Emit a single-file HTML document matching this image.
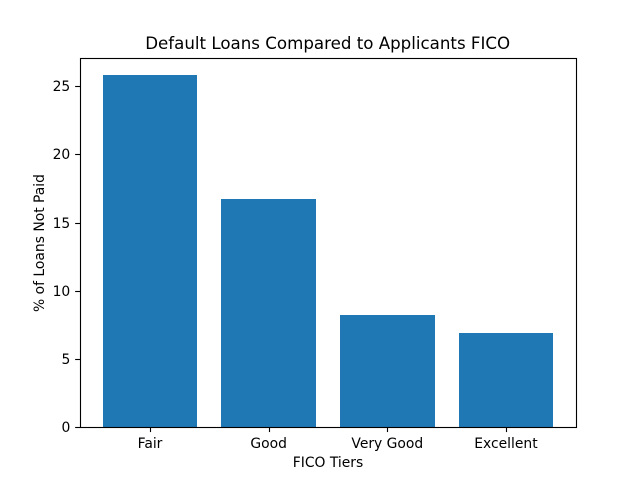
<!DOCTYPE html>
<html>
<head>
<meta charset="utf-8">
<title>Default Loans Compared to Applicants FICO</title>
<style>
html,body{margin:0;padding:0;background:#fff;}
svg{display:block;}
text{font-family:"DejaVu Sans",sans-serif;fill:#000;}
</style>
</head>
<body>
<svg id="chart" width="640" height="480" viewBox="0 0 640 480" xmlns="http://www.w3.org/2000/svg"></svg>
<script>
const categories = ["Fair", "Good", "Very Good", "Excellent"];
const values = [25.8, 16.73, 8.23, 6.91];
const yTicks = [0, 5, 10, 15, 20, 25];
const chartTitle = "Default Loans Compared to Applicants FICO";
const xAxisTitle = "FICO Tiers";
const yAxisTitle = "% of Loans Not Paid";

const plotLeft = 80, plotRight = 576, plotTop = 57.6, plotBottom = 427.2;
const barWidth = 0.8;
const svg = document.getElementById('chart');
const NS = 'http://www.w3.org/2000/svg';

const xMinData = -barWidth / 2;
const xMaxData = categories.length - 1 + barWidth / 2;
const xPad = (xMaxData - xMinData) * 0.05;
const yMax = Math.max.apply(null, values) * 1.05;

function xScale(v) {
  return plotLeft + (v - (xMinData - xPad)) / ((xMaxData + xPad) - (xMinData - xPad)) * (plotRight - plotLeft);
}
function yScale(v) {
  return plotBottom - (v / yMax) * (plotBottom - plotTop);
}
function make(tag, attrs, text) {
  const el = document.createElementNS(NS, tag);
  for (const k in attrs) el.setAttribute(k, attrs[k]);
  if (text !== undefined) el.textContent = text;
  svg.appendChild(el);
  return el;
}

const bg = make('rect', {x: 0, y: 0, width: 640, height: 480, fill: '#fff'});



const snapBottom = Math.round(plotBottom);

categories.forEach(function (cat, i) {
  const top = Math.round(yScale(values[i]));
  const left = Math.round(xScale(i - barWidth / 2));
  const right = Math.round(xScale(i + barWidth / 2));
  const bar = make('rect', {
    x: left,
    y: top,
    width: right - left,
    height: snapBottom - top,
    fill: '#1f77b4',
    'shape-rendering': 'crispEdges'
  });
  
  
});

categories.forEach(function (cat, i) {
  const x = xScale(i);
  const tx = Math.round(x) + 0.5;
  const tick = make('line', {x1: tx, x2: tx, y1: snapBottom + 0.5, y2: plotBottom + 4.86, stroke: '#000', 'stroke-width': 1.11});
  
  
  const label = make('text', {x: x, y: 448, 'text-anchor': 'middle', 'font-size': '13.89px'}, cat);
  
  
});

yTicks.forEach(function (t) {
  const y = Math.round(yScale(t));
  const ty = y + 0.5;
  const tick = make('line', {x1: plotLeft - 4.86, x2: plotLeft + 0.5, y1: ty, y2: ty, stroke: '#000', 'stroke-width': 1.11});
  
  
  const label = make('text', {x: plotLeft - 9.72, y: y + 5.2, 'text-anchor': 'end', 'font-size': '13.89px'}, String(t));
  
  
});

const frameTop = Math.round(plotTop) + 0.5;
const frame = make('rect', {
  x: plotLeft + 0.5, y: frameTop,
  width: plotRight - plotLeft, height: snapBottom + 0.5 - frameTop,
  fill: 'none', stroke: '#000', 'stroke-width': 1.11
});



const titleEl = make('text', {x: (plotLeft + plotRight) / 2 - 0.3, y: 49, 'text-anchor': 'middle', 'font-size': '16.67px'}, chartTitle);



const xTitleEl = make('text', {x: (plotLeft + plotRight) / 2, y: 467, 'text-anchor': 'middle', 'font-size': '13.89px'}, xAxisTitle);



const yMid = 243;
const yTitleEl = make('text', {x: 44, y: yMid, 'text-anchor': 'middle', 'font-size': '13.89px', transform: 'rotate(-90 44 ' + yMid + ')'}, yAxisTitle);


</script>
</body>
</html>
